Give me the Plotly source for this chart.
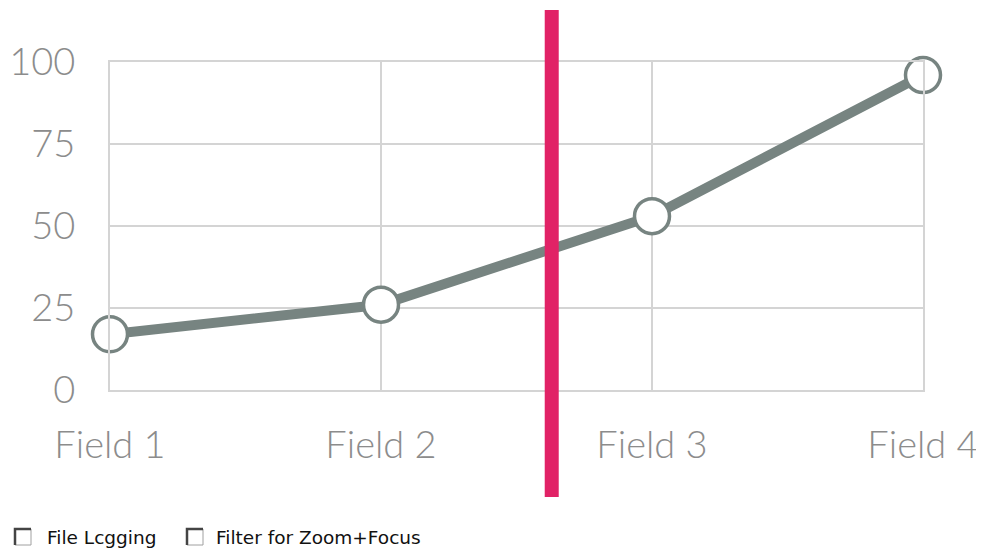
import plotly.graph_objects as go

categories = ["Field 1", "Field 2", "Field 3", "Field 4"]
values = [17, 26, 53, 96]
y_ticks = [0, 25, 50, 75, 100]
marker_x = 1.63  # position of the pink vertical marker, in category units
checkbox_labels = ["File Lcgging", "Filter for Zoom+Focus"]

OFF = 8  # page body margin
W, H = 984, 549
L, T = 110 - OFF, 62 - OFF
R, B = W - (923 - OFF), H - (390 - OFF)
pw, ph = W - L - R, H - T - B

def px(x):
    return (x - OFF - L) / pw

def py(y):
    return (H - B - (y - OFF)) / ph

grey = "#778481"
gridc = "#d4d4d4"
fig = go.Figure()
fig.add_trace(go.Scatter(
    x=list(range(len(categories))), y=values, mode="lines+markers",
    line=dict(color=grey, width=10),
    marker=dict(size=35, color="white", line=dict(color=grey, width=3.5)),
    cliponaxis=False, hoverinfo="skip",
))

fig.add_shape(type="line", xref="x", yref="paper", x0=marker_x, x1=marker_x,
              y0=py(497), y1=py(10), line=dict(color="#E12266", width=14), layer="above")

# checkboxes
boxes = [(15, 31), (187, 203)]
text_x = [45, 214]
for (bx0, bx1), tx, lab in zip(boxes, text_x, checkbox_labels):
    fig.add_shape(type="rect", xref="paper", yref="paper",
                  x0=px(bx0), x1=px(bx1), y0=py(545), y1=py(529),
                  line=dict(color="#a0a0a0", width=1), fillcolor="white")
    fig.add_shape(type="path", xref="paper", yref="paper",
                  path=f"M {px(bx0)} {py(545)} L {px(bx0)} {py(529)} L {px(bx1)} {py(529)}",
                  line=dict(color="#444444", width=2.5))
    fig.add_annotation(xref="paper", yref="paper", x=px(tx), y=py(537),
                       text=lab, showarrow=False, xanchor="left", yanchor="middle",
                       font=dict(family="DejaVu Sans", size=18.5, color="#111111"))

tickfont = dict(family="Lato", size=38, color="#8c8c8c", weight=300)
axis_common = dict(showgrid=True, gridcolor=gridc, gridwidth=2, zeroline=False,
                   showline=True, mirror=True, linecolor=gridc, linewidth=2,
                   tickfont=tickfont, fixedrange=True, automargin=False)
fig.update_layout(
    width=W, height=H, margin=dict(l=L, r=R, t=T, b=B),
    paper_bgcolor="white", plot_bgcolor="white", showlegend=False,
    xaxis=dict(range=[0, 3], tickmode="array", tickvals=list(range(len(categories))),
               ticktext=categories, ticklabelstandoff=20, **axis_common),
    yaxis=dict(range=[0, 100], tickmode="array", tickvals=y_ticks,
               ticklabelstandoff=25, **axis_common),
)
fig.write_html("out.html")
